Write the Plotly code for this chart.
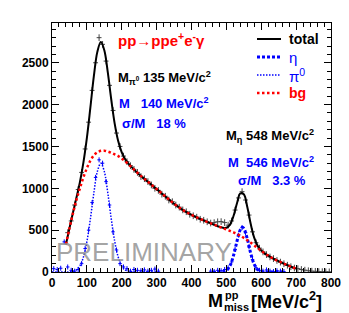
import plotly.graph_objects as go

# ---------------- data ----------------
# fit curves on a common grid (MeV/c^2)
curve_x = list(range(40, 710, 10))
total_y = [330, 522, 708, 886, 1073, 1306, 1602, 1963, 2339, 2630,
           2748, 2650, 2384, 2058, 1767, 1561, 1428, 1346, 1293, 1247,
           1205, 1165, 1130, 1095, 1060, 1025, 990, 955, 920, 885,
           850, 815, 785, 755, 728, 705, 682, 662, 643, 625,
           607, 590, 573, 556, 541, 528, 528, 564, 663, 815,
           939, 930, 776, 570, 408, 312, 258, 223, 195, 170,
           148, 128, 108, 90, 72, 55, 40]
bg_y = [330, 520, 700, 860, 1000, 1130, 1240, 1330, 1395, 1430,
        1448, 1450, 1440, 1425, 1405, 1385, 1355, 1320, 1285, 1245,
        1205, 1165, 1130, 1095, 1060, 1025, 990, 955, 920, 885,
        850, 815, 785, 755, 728, 705, 682, 662, 643, 625,
        607, 590, 573, 556, 540, 524, 508, 492, 474, 455,
        433, 408, 380, 350, 318, 285, 252, 222, 195, 170,
        148, 128, 108, 90, 72, 55, 40]

pi0_x = [0, 20, 40, 50, 60, 70, 80, 90, 100, 110, 120, 130, 140,
         150, 160, 170, 180, 190, 200, 210, 220, 230, 240, 260, 280, 300]
pi0_y = [0, 0, 0, 2, 8, 26, 73, 176, 362, 633, 944, 1200, 1300,
         1200, 944, 633, 362, 176, 73, 26, 8, 2, 0, 0, 0, 0]

eta_x = [460, 480, 490, 500, 510, 520, 530, 540, 546, 550, 560, 570,
         580, 590, 600, 610, 620, 640, 660]
eta_y = [0, 1, 4, 20, 72, 189, 360, 506, 535, 522, 396, 220,
         90, 27, 6, 1, 0, 0, 0]

# measured spectrum (black crosses)
data_x = list(range(45, 800, 10))
data_y = [470, 610, 800, 985, 1190, 1470, 1790, 2170, 2500, 2800,
          2720, 2520, 2230, 1930, 1660, 1500, 1385, 1318, 1270, 1226,
          1190, 1140, 1115, 1080, 1040, 1000, 975, 930, 905, 860,
          840, 800, 775, 742, 720, 690, 672, 655, 630, 618,
          600, 585, 590, 600, 602, 590, 560, 610, 740, 885,
          960, 860, 680, 480, 350, 285, 240, 208, 180, 160,
          138, 118, 99, 81, 63, 47, 40, 30, 22, 15,
          10, 8, 5, 4, 3, 2]

# background-subtracted signal (blue crosses)
sig_x = [5, 15, 25, 35, 45, 55, 65, 75, 85, 95, 105, 115, 125, 135, 145,
         155, 165, 175, 185, 195, 205, 215, 225, 235, 245, 255, 265, 275,
         285, 295, 305,
         455, 465, 475, 485, 495, 505, 515, 525, 535, 545, 555, 565, 575,
         585, 595, 605, 615, 625, 635, 645, 655, 665]
sig_y = [40, 30, 45, 360, 60, 20, 10, 30, 100, 280, 500, 830, 1130, 1340, 1300,
         1080, 800, 480, 263, 100, 60, 40, 10, 30, 20, 15, 25, 10,
         20, 35, 10,
         10, 5, 20, 15, 30, 50, 120, 270, 440, 530, 470, 300, 150,
         50, 20, 10, 25, 10, 5, 15, 10, 5]

x_ticks = [0, 100, 200, 300, 400, 500, 600, 700, 800]
y_ticks = [0, 500, 1000, 1500, 2000, 2500]

# ---------------- figure ----------------
W, H = 349, 313
L, R, T, B = 52, 18, 23, 41
PW, PH = W - L - R, H - T - B


def px(xp):
    return (xp - L) / PW


def py(yp):
    return (H - B - yp) / PH


FONT = "Liberation Sans, Arial, Helvetica, sans-serif"
BLUE = "#0000ff"
RED = "#ff0000"
GREY = "#444444"

TOTAL_STYLE = dict(color="black", width=2)
ETA_STYLE = dict(color=BLUE, width=3, dash="3px,2px")
PI0_STYLE = dict(color=BLUE, width=1.5, dash="1.5px,1.5px")
BG_STYLE = dict(color=RED, width=2.5, dash="2.5px,2.5px")

fig = go.Figure()

fig.add_trace(go.Scatter(
    x=sig_x, y=sig_y, mode="markers", showlegend=False,
    marker=dict(size=1, color=BLUE),
    error_x=dict(type="constant", value=5, width=0, color=BLUE, thickness=1),
    error_y=dict(type="constant", value=30, width=0, color=BLUE, thickness=1),
))
fig.add_trace(go.Scatter(
    x=data_x, y=data_y, mode="markers", showlegend=False,
    marker=dict(size=1, color=GREY),
    error_x=dict(type="constant", value=7, width=0, color=GREY, thickness=1),
    error_y=dict(type="constant", value=40, width=0, color=GREY, thickness=1),
))

fig.add_trace(go.Scatter(x=curve_x, y=total_y, mode="lines", name="total",
                         line=dict(shape="spline", **TOTAL_STYLE)))
fig.add_trace(go.Scatter(x=eta_x, y=eta_y, mode="lines", name="η",
                         line=dict(shape="spline", **ETA_STYLE)))
fig.add_trace(go.Scatter(x=pi0_x, y=pi0_y, mode="lines", name="π0",
                         line=dict(shape="spline", **PI0_STYLE)))
fig.add_trace(go.Scatter(x=curve_x, y=bg_y, mode="lines", name="bg",
                         line=dict(shape="spline", **BG_STYLE)))

ann = []


def text(s, xl, yc, size=13, color="black", bold=True, anchor="left"):
    ann.append(dict(
        text=("<b>%s</b>" % s) if bold else s,
        x=px(xl), y=py(yc), xref="paper", yref="paper",
        xanchor=anchor, yanchor="middle", showarrow=False,
        font=dict(family=FONT, size=size, color=color),
    ))


text("pp→ppe<sup>+</sup>e<sup>-</sup>γ", 116, 40, size=15, color=RED, bold=True)
text("M<sub>π<sup>0</sup></sub> 135 MeV/c<sup>2</sup>", 116, 78)
text("M   140 MeV/c<sup>2</sup>", 117, 103, color=BLUE)
text("σ/M   18 %", 120, 123, color=BLUE)
text("M<sub>η</sub> 548 MeV/c<sup>2</sup>", 224, 136)
text("M  546 MeV/c<sup>2</sup>", 226, 162, color=BLUE)
text("σ/M   3.3 %", 236, 180, color=BLUE)
ann.append(dict(
    text="PRELIMINARY", x=px(144), y=py(252), xref="paper", yref="paper",
    xanchor="center", yanchor="middle", showarrow=False,
    font=dict(family=FONT, size=26, color="rgba(140,140,140,0.8)"),
))
# axis title M^{pp}_{miss} [MeV/c^2]
text("M", 206, 301, size=18)
text("pp", 223, 295, size=11)
text("miss", 222, 307, size=11)
text("[MeV/c<sup>2</sup>]", 249, 300, size=18)

# legend (drawn in the ROOT style, top right)
shapes = []
legend_rows = [("total", TOTAL_STYLE, "black", True, 14, 39),
               ("η", ETA_STYLE, BLUE, False, 15, 57),
               ("π<sup>0</sup>", PI0_STYLE, BLUE, False, 15, 75),
               ("bg", BG_STYLE, RED, True, 14, 93)]
for label, style, col, bold, size, yrow in legend_rows:
    shapes.append(dict(type="line", xref="paper", yref="paper",
                       x0=px(257), x1=px(281), y0=py(yrow), y1=py(yrow),
                       line=style))
    text(label, 287, yrow, size=size, color=col, bold=bold)

axis_common = dict(
    showline=True, linecolor="black", linewidth=1, mirror="ticks",
    ticks="inside", ticklen=7, tickcolor="black", tickwidth=1,
    showgrid=False, zeroline=False, automargin=False,
    tickfont=dict(family=FONT, size=12, color="black", weight="bold"),
)

fig.update_layout(
    width=W, height=H,
    margin=dict(l=L, r=R, t=T, b=B, autoexpand=False),
    paper_bgcolor="white", plot_bgcolor="white",
    xaxis=dict(range=[0, 800], tickvals=x_ticks,
               minor=dict(ticks="inside", ticklen=4, dtick=20, tickcolor="black"),
               **axis_common),
    yaxis=dict(range=[0, 2975], tickvals=y_ticks,
               minor=dict(ticks="inside", ticklen=4, dtick=100, tickcolor="black"),
               **axis_common),
    annotations=ann,
    shapes=shapes,
    showlegend=False,
)

fig.write_html("out.html",
               config={"displayModeBar": False},
               post_script="document.body.style.margin='0';"
                           "document.body.style.padding='0';")
